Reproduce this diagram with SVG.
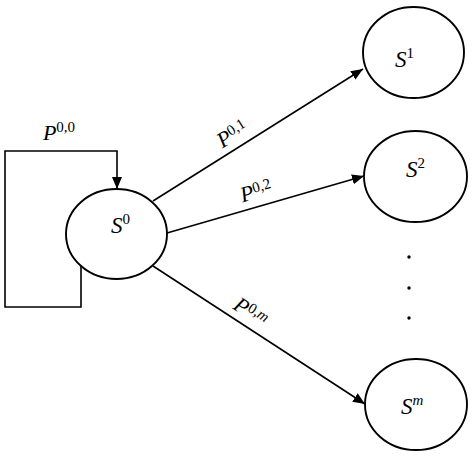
<svg xmlns="http://www.w3.org/2000/svg" width="474" height="458" viewBox="0 0 474 458">
<defs>
<marker id="ah" markerUnits="userSpaceOnUse" markerWidth="13" markerHeight="11" refX="12" refY="5" orient="auto">
<path d="M0,0 L12,5 L0,10 z" fill="#000"/>
</marker>
<style>
.node{fill:#fff;stroke:#000;stroke-width:1.9}
.edge{fill:none;stroke:#000;stroke-width:1.6;marker-end:url(#ah)}
.t{font-family:"Liberation Serif","DejaVu Serif",serif;font-size:23px;fill:#000}
.i{font-style:italic}
.sup{font-size:15px}
.lbl{font-family:"Liberation Serif","DejaVu Serif",serif;font-size:22px;fill:#000;text-anchor:middle}
.lsup{font-size:15px}
</style>
</defs>
<rect width="474" height="458" fill="#fff"/>
<g id="connectors">
<path class="edge" d="M81,266 L81,307 L5,307 L5,151 L117,151 L117,189"/>
<line class="edge" x1="153" y1="201" x2="363" y2="69"/>
<line class="edge" x1="167" y1="233" x2="364" y2="176"/>
<line class="edge" x1="153" y1="266" x2="365" y2="404"/>
<text class="lbl" x="59" y="140"><tspan class="i">P</tspan><tspan class="lsup" dy="-8">0,0</tspan></text>
<text class="lbl" transform="translate(236,140) rotate(-32.2)"><tspan class="i">P</tspan><tspan class="lsup" dy="-6">0,1</tspan></text>
<text class="lbl" transform="translate(258,198) rotate(-16.1)"><tspan class="i">P</tspan><tspan class="lsup" dy="-6">0,2</tspan></text>
<text class="lbl" transform="translate(247,318) rotate(33.1)"><tspan class="i">P</tspan><tspan class="lsup" dy="-6">0,</tspan><tspan class="lsup i">m</tspan></text>
</g>
<g id="S0">
<ellipse class="node" cx="116.5" cy="234" rx="50.5" ry="45"/>
<text class="t" x="111" y="233"><tspan class="i">S</tspan><tspan class="sup" dy="-9">0</tspan></text>
</g>
<g id="S1">
<ellipse class="node" cx="413.5" cy="52.5" rx="50.5" ry="45.5"/>
<text class="t" x="395" y="67"><tspan class="i">S</tspan><tspan class="sup" dy="-9">1</tspan></text>
</g>
<g id="S2">
<ellipse class="node" cx="415.5" cy="176.5" rx="51.5" ry="45.5"/>
<text class="t" x="406" y="177"><tspan class="i">S</tspan><tspan class="sup" dy="-9">2</tspan></text>
</g>
<g id="ellipsis">
<circle cx="409" cy="257" r="1.7" fill="#000"/>
<circle cx="409" cy="288" r="1.7" fill="#000"/>
<circle cx="409" cy="318" r="1.7" fill="#000"/>
</g>
<g id="Sm">
<ellipse class="node" cx="416" cy="404.5" rx="51" ry="45.5"/>
<text class="t" x="401" y="414"><tspan class="i">S</tspan><tspan class="sup i" dy="-9">m</tspan></text>
</g>
</svg>
